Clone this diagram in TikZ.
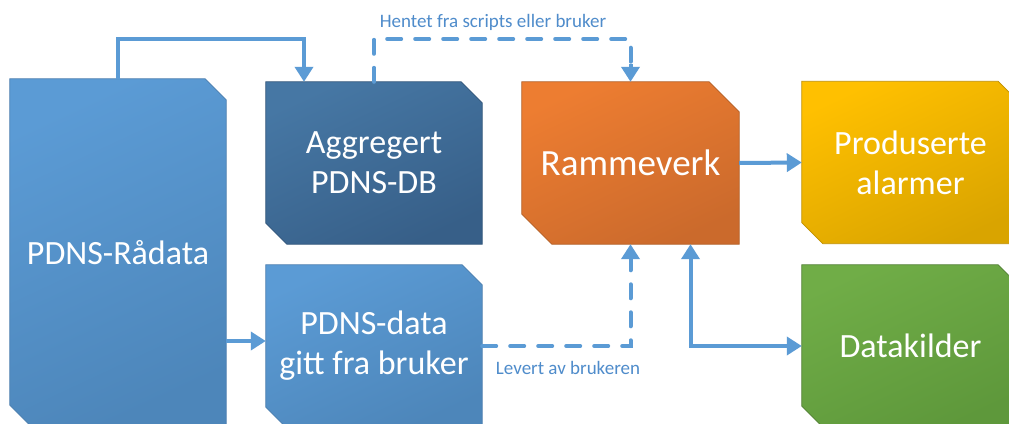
\documentclass[tikz,border=0pt]{standalone}
\usepackage{fontspec}
\setmainfont{Carlito}
\usetikzlibrary{arrows.meta,calc,backgrounds}

\definecolor{link}{HTML}{5B9BD5}
\definecolor{linktext}{HTML}{4F8CCB}
\definecolor{blueA}{HTML}{5B9BD5}
\definecolor{blueB}{HTML}{4D86BA}
\definecolor{blueLine}{HTML}{4A7DAE}
\definecolor{navyA}{HTML}{4677A4}
\definecolor{navyB}{HTML}{375F88}
\definecolor{navyLine}{HTML}{2F5479}
\definecolor{orangeA}{HTML}{ED7D31}
\definecolor{orangeB}{HTML}{CB6A2C}
\definecolor{orangeLine}{HTML}{B25E25}
\definecolor{goldA}{HTML}{FFC000}
\definecolor{goldB}{HTML}{D9A400}
\definecolor{goldLine}{HTML}{C09000}
\definecolor{greenA}{HTML}{70AD47}
\definecolor{greenB}{HTML}{5E983B}
\definecolor{greenLine}{HTML}{507E32}

% outline of a block with its top right and bottom left corners cut off
\newcommand\snipbox[3]{%
  \path[#3] (#1.north west) -- ([xshift=-#2]#1.north east)
    -- ([yshift=-#2]#1.north east) -- (#1.south east)
    -- ([xshift=#2]#1.south west) -- ([yshift=#2]#1.south west) -- cycle;}

\begin{document}
\begin{tikzpicture}[x=1pt,y=-1pt,
  block/.style={rectangle, minimum width=216pt, minimum height=162pt,
    inner sep=0pt, text=white, align=center,
    font=\fontsize{34}{40}\selectfont},
  fillblue/.style={draw=blueLine, line width=0.7pt, top color=blueA, bottom color=blueB, shading angle=25},
  fillnavy/.style={draw=navyLine, line width=0.7pt, top color=navyA, bottom color=navyB, shading angle=25},
  fillorange/.style={draw=orangeLine, line width=0.7pt, top color=orangeA, bottom color=orangeB, shading angle=25},
  fillgold/.style={draw=goldLine, line width=0.7pt, top color=goldA, bottom color=goldB, shading angle=25},
  fillgreen/.style={draw=greenLine, line width=0.7pt, top color=greenA, bottom color=greenB, shading angle=25},
  conn/.style={draw=link, line width=4pt},
  dashconn/.style={conn, line cap=round, dash pattern=on 14pt off 14pt},
  tip/.style={-{Triangle[width=18pt,length=15pt]}},
  tips/.style={{Triangle[width=18pt,length=15pt]}-{Triangle[width=18pt,length=15pt]}},
  note/.style={text=linktext, font=\fontsize{19}{23}\selectfont, inner sep=0pt}
]
\useasboundingbox (0,0) rectangle (1009,423);
\clip (0,0) rectangle (1009,423);

% boxes
\node[block, minimum height=347pt] (rad) at (118,252.5) {PDNS-Rådata};
\node[block] (agg) at (374,163) {Aggregert\\PDNS-DB};
\node[block] (dat) at (374,346) {PDNS-data\\gitt fra bruker};
\node[block, minimum width=217pt, font=\fontsize{37}{44}\selectfont] (ram) at (630.5,163) {Rammeverk};
\node[block, minimum width=217pt] (alm) at (910.5,162.5) {Produserte\\alarmer};
\node[block, minimum width=217pt] (kil) at (910.5,346) {Datakilder};

\begin{scope}[on background layer]
  \fill[white] (0,0) rectangle (1009,423);
  \snipbox{rad}{21pt}{fillblue}
  \snipbox{agg}{21pt}{fillnavy}
  \snipbox{dat}{20pt}{fillblue}
  \snipbox{ram}{30pt}{fillorange}
  \snipbox{alm}{21pt}{fillgold}
  \snipbox{kil}{21pt}{fillgreen}
\end{scope}

% connectors
\coordinate (aggIn) at ([xshift=-70pt]agg.north);
\draw[conn, tip] (rad.north) -- (rad.north |- 0,39) -| (aggIn);
\draw[dashconn] (agg.north) -- (agg.north |- 0,39) -| ([yshift=16pt]ram.north);
\draw[conn, tip] ([yshift=18pt]ram.north) -- (ram.north);
\draw[dashconn] (dat.east) -| ([yshift=-16pt]ram.south);
\draw[conn, tip] ([yshift=-18pt]ram.south) -- (ram.south);
\coordinate (ramOut) at ([xshift=60pt]ram.south);
\draw[conn, tips] (ramOut) |- (kil.west);
\draw[conn, tip] (ram.east) -- (alm.west);
\coordinate (datIn) at ([yshift=5pt]dat.west);
\draw[conn, tip] (datIn -| rad.east) -- (datIn);

% labels
\node[note] (lblTop) at (493,22) {Hentet fra scripts eller bruker};
\node[note] (lblBot) at (568,368) {Levert av brukeren};
\end{tikzpicture}
\end{document}
